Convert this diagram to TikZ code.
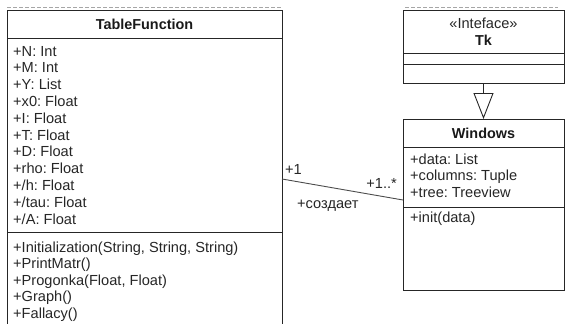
\documentclass[tikz,border=0pt]{standalone}
\usepackage{fontspec}
\setmainfont{Liberation Sans}
\usetikzlibrary{arrows.meta}
\frenchspacing
\begin{document}
\begin{tikzpicture}[x=1pt,y=-1pt,
  box/.style={draw=black!85, line width=0.9pt, anchor=north west, inner sep=0pt, outer sep=0pt},
  txt/.style={anchor=base west, inner sep=0pt, font=\fontsize{14.6}{16}\selectfont, text=black!85},
  ctxt/.style={anchor=base, inner sep=0pt, font=\fontsize{14.6}{16}\selectfont, text=black!85},
  btxt/.style={anchor=base, inner sep=0pt, font=\fontsize{14.4}{16}\selectfont\bfseries, text=black!90},
  assoc/.style={draw=black!70, line width=0.9pt},
  faint/.style={draw=black!35, line width=0.6pt, dash pattern=on 4pt off 2pt}]
\useasboundingbox (0,0) rectangle (565,324);
\clip (0,0) rectangle (565,324);
% faint remnants at the top
\draw[faint] (7,7.5) -- (282,7.5);
\draw[faint] (405,7.5) -- (558,7.5);
% TableFunction
\node[box, minimum width=275pt, minimum height=28pt] (tfhead) at (7,10) {};
\node[box, minimum width=275pt, minimum height=194pt] (tfattr) at (7,38) {};
\node[box, minimum width=275pt, minimum height=100pt] (tfmeth) at (7,232) {};
\node[btxt] (tftitle) at (144.5,29) {TableFunction};
\foreach \t [count=\i from 0] in {+N: Int,+M: Int,+Y: List,+x0: Float,+I: Float,+T: Float,+D: Float,+rho: Float,+/h: Float,+/tau: Float,+/A: Float}{
  \node[txt] (tfa\i) at (13,{56+16.8*\i}) {\t};
}
\node[txt] (tfm0) at (13,252) {+Initialization(String, String, String)};
\node[txt] (tfm1) at (13,268.6) {+PrintMatr()};
\node[txt] (tfm2) at (13,285.2) {+Progonka(Float, Float)};
\node[txt] (tfm3) at (13,301.8) {+Graph()};
\node[txt] (tfm4) at (13,318.4) {+Fallacy()};
% Tk
\node[box, minimum width=161pt, minimum height=43pt] (tkhead) at (403,10) {};
\node[box, minimum width=161pt, minimum height=11pt] (tkattr) at (403,53) {};
\node[box, minimum width=161pt, minimum height=19pt] (tkmeth) at (403,64) {};
\node[ctxt] (tkster) at (483.5,28) {«Inteface»};
\node[btxt] (tktitle) at (483.5,45) {Tk};
% Windows
\node[box, minimum width=161pt, minimum height=28pt] (wshead) at (403,119) {};
\node[box, minimum width=161pt, minimum height=60pt] (wsattr) at (403,147) {};
\node[box, minimum width=161pt, minimum height=83pt] (wsmeth) at (403,207) {};
\node[btxt] (wstitle) at (483.5,138) {Windows};
\node[txt] (wsa0) at (410,164) {+data: List};
\node[txt] (wsa1) at (410,180.5) {+columns: Tuple};
\node[txt] (wsa2) at (410,197) {+tree: Treeview};
\node[txt] (wsm0) at (410,222) {+init(data)};
% realization
\draw[black!85, line width=0.9pt, -{Triangle[open, length=26pt, width=20pt, line width=0.9pt]}] (tkmeth.south) -- (wshead.north);
% association
\draw[assoc] ([yshift=-44pt]tfattr.east) -- ([yshift=-23pt]wsattr.west);
\node[txt] (m1) at (285,174) {+1};
\node[anchor=base east, inner sep=0pt, font=\fontsize{14.6}{16}\selectfont, text=black!85] (m2) at (397,188) {+1..*};
\node[txt] (rolename) at (297,208) {+создает};
\end{tikzpicture}
\end{document}
